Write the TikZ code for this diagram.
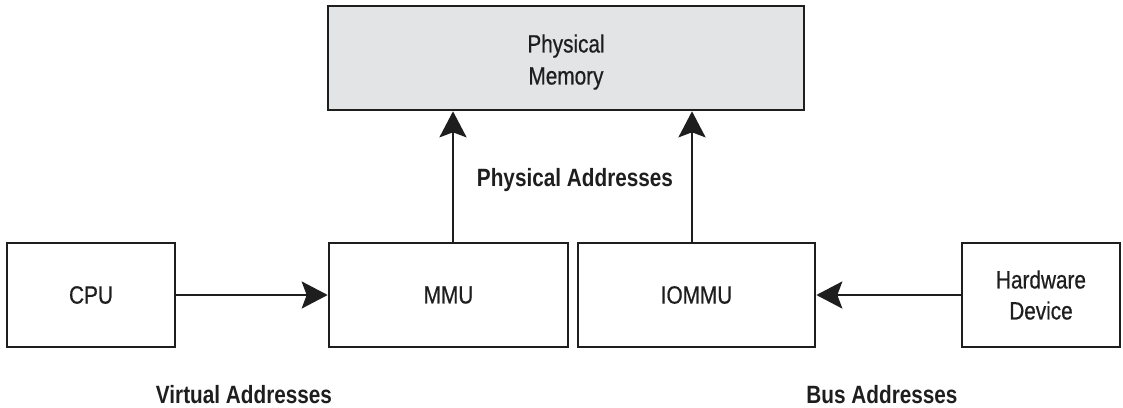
\documentclass[tikz,border=0pt]{standalone}
\usepackage{fontspec}
\setmainfont{Liberation Sans}[FakeStretch=0.83]
\newfontfamily\boxfont{Liberation Sans}[FakeStretch=0.83,FakeBold=0.6]
\usetikzlibrary{arrows.meta}
\definecolor{memfill}{HTML}{E3E4E6}
\definecolor{ink}{HTML}{1E1E1E}
\begin{document}
\begin{tikzpicture}[x=1pt,y=-1pt,
  blk/.style={draw=ink, line width=2.6pt, minimum height=104pt, inner sep=0pt,
    font=\boxfont\fontsize{25}{31}\selectfont, text=ink, align=center},
  btxt/.style={font=\boxfont\fontsize{25}{32}\selectfont, text=ink, align=center, inner sep=0pt},
  lbl/.style={font=\fontsize{25}{31}\selectfont\bfseries, text=ink, inner sep=0pt},
  arr/.style={draw=ink, line width=2.6pt, -{Stealth[length=26pt,width=27pt,inset=5pt]}}]
\useasboundingbox (0,0) rectangle (1123,407);
\node[blk, fill=memfill, minimum width=476pt] (pm) at (566,58) {};
\node[btxt] (pmt) at (566,62) {Physical\\Memory};
\node[blk, minimum width=168pt] (cpu) at (91,295) {CPU};
\node[blk, minimum width=239pt] (mmu) at (448.5,295) {MMU};
\node[blk, minimum width=237pt] (iommu) at (696.5,295) {IOMMU};
\node[blk, minimum width=158pt] (hw) at (1041,295) {Hardware\\Device};
\coordinate (a1) at (453,0);
\coordinate (a2) at (692,0);
\draw[arr] (a1 |- mmu.north) -- (a1 |- pm.south);
\draw[arr] (a2 |- iommu.north) -- (a2 |- pm.south);
\draw[arr] (cpu.east) -- (mmu.west);
\draw[arr] (hw.west) -- (iommu.east);
\node[lbl] (pa) at (575,180) {Physical Addresses};
\node[lbl] (va) at (244,395) {Virtual Addresses};
\node[lbl] (ba) at (882,395) {Bus Addresses};
\end{tikzpicture}
\end{document}
